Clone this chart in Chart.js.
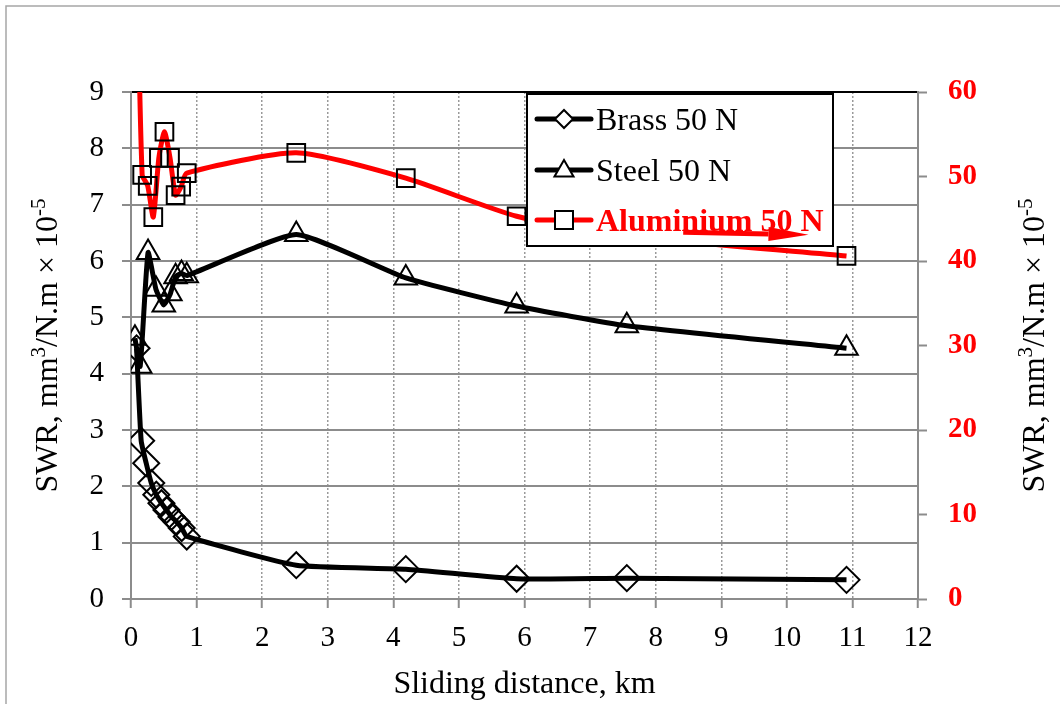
<!DOCTYPE html>
<html>
<head>
<meta charset="utf-8">
<script src="https://cdn.jsdelivr.net/npm/chart.js@4.4.0/dist/chart.umd.min.js"></script>
<style>
html,body{margin:0;padding:0;background:#ffffff;}
#wrap{width:1060px;height:704px;position:relative;}
</style>
</head>
<body>
<div id="wrap"><canvas id="c" width="1060" height="704"></canvas></div>
<script>
// ---- data (sliding distance in km, specific wear rate) ----
const brassDist = [0.085, 0.155, 0.232, 0.309, 0.386, 0.464, 0.541, 0.618, 0.695, 0.773, 0.85, 2.52, 4.19, 5.88, 7.56, 10.91];
const brassSWR  = [4.45, 2.81, 2.41, 2.06, 1.85, 1.70, 1.58, 1.46, 1.37, 1.26, 1.11, 0.60, 0.53, 0.36, 0.37, 0.34];

const steelDist = [0.06, 0.14, 0.26, 0.38, 0.50, 0.60, 0.68, 0.77, 0.85, 2.52, 4.19, 5.88, 7.56, 10.91];
const steelSWR  = [4.63, 4.13, 6.15, 5.50, 5.22, 5.42, 5.72, 5.78, 5.74, 6.47, 5.70, 5.20, 4.85, 4.45];

const alDist = [0.085, 0.17, 0.255, 0.34, 0.425, 0.51, 0.595, 0.68, 0.765, 0.85, 2.52, 4.19, 5.88, 7.56, 10.91];
const alSWR  = [78, 50.2, 48.9, 45.2, 52.2, 55.3, 52.2, 47.8, 48.8, 50.4, 52.8, 49.8, 45.3, 43.0, 40.6];

const seriesNames = ['Brass 50 N', 'Steel 50 N', 'Aluminium 50 N'];
const xTitle = 'Sliding distance, km';
const yTitleParts = [['SWR, mm', false], ['3', true], ['/N.m × 10', false], ['-5', true]];
// annotation arrow (x in km, y on right axis)
const arrowFrom = [8.42, 43.4];
const arrowTo   = [10.33, 43.1];

const SERIF = '"Liberation Serif", "Times New Roman", serif';

function pts(xs, ys){ return xs.map((x,i)=>({x:x, y:ys[i]})); }

function drawRich(ctx, parts, size, x, y, rot){
  ctx.save();
  ctx.translate(x, y);
  ctx.rotate(rot);
  ctx.fillStyle = '#000';
  ctx.textBaseline = 'alphabetic';
  ctx.textAlign = 'left';
  let total = 0;
  const widths = parts.map(([t, sup])=>{
    ctx.font = (sup ? Math.round(size*0.65) : size) + 'px ' + SERIF;
    const w = ctx.measureText(t).width; total += w; return w;
  });
  let cx = -total/2;
  parts.forEach(([t, sup], i)=>{
    ctx.font = (sup ? Math.round(size*0.65) : size) + 'px ' + SERIF;
    ctx.fillText(t, cx, sup ? -size*0.36 : 0);
    cx += widths[i];
  });
  ctx.restore();
}

function marker(ctx, style, x, y, r, fill){
  ctx.save();
  ctx.beginPath();
  if (style === 'rectRot'){
    ctx.moveTo(x - r, y); ctx.lineTo(x, y - r); ctx.lineTo(x + r, y); ctx.lineTo(x, y + r);
  } else if (style === 'triangle'){
    ctx.moveTo(x, y - r); ctx.lineTo(x + r*0.866, y + r*0.5); ctx.lineTo(x - r*0.866, y + r*0.5);
  } else {
    ctx.rect(x - r, y - r, 2*r, 2*r);
  }
  ctx.closePath();
  ctx.fillStyle = fill; ctx.fill();
  ctx.lineWidth = 2; ctx.strokeStyle = '#000'; ctx.stroke();
  ctx.restore();
}

const overlay = {
  id: 'overlay',
  afterDraw(chart){
    const ctx = chart.ctx;
    const xs = chart.scales.x, y2 = chart.scales.y2, ca = chart.chartArea;
    // outer frame
    ctx.save();
    ctx.strokeStyle = '#a6a6a6'; ctx.lineWidth = 1.5;
    ctx.beginPath(); ctx.moveTo(6, 710); ctx.lineTo(6, 6); ctx.lineTo(1070, 6); ctx.stroke();
    ctx.restore();
    // axis titles
    ctx.save();
    ctx.font = '32px ' + SERIF; ctx.fillStyle = '#000'; ctx.textAlign = 'center'; ctx.textBaseline = 'alphabetic';
    ctx.fillText(xTitle, (ca.left + ca.right)/2, 693);
    ctx.restore();
    const midY = (ca.top + ca.bottom)/2;
    drawRich(ctx, yTitleParts, 32, 57, midY, -Math.PI/2);
    drawRich(ctx, yTitleParts, 32, 1044, midY, -Math.PI/2);
    // legend
    const L = 527, T = 94, W = 306, H = 152;
    ctx.save();
    ctx.fillStyle = '#fff'; ctx.fillRect(L, T, W, H);
    ctx.strokeStyle = '#000'; ctx.lineWidth = 2; ctx.strokeRect(L, T, W, H);
    const rows = [119, 170, 220];
    const styles = ['rectRot', 'triangle', 'rect'];
    const colors = ['#000', '#000', '#ff0000'];
    const radii = [9, 11, 9];
    rows.forEach((ry, i)=>{
      ctx.strokeStyle = colors[i]; ctx.lineWidth = 5; ctx.lineCap = 'round';
      ctx.beginPath(); ctx.moveTo(537, ry); ctx.lineTo(591, ry); ctx.stroke();
      marker(ctx, styles[i], 564, i === 1 ? ry + 1 : ry, radii[i], '#fff');
      ctx.font = (i === 2 ? 'bold ' : '') + '32px ' + SERIF;
      ctx.fillStyle = colors[i]; ctx.textAlign = 'left'; ctx.textBaseline = 'alphabetic';
      ctx.fillText(seriesNames[i], 596, ry + 11);
    });
    ctx.restore();
    // arrow
    const ax1 = xs.getPixelForValue(arrowFrom[0]), ay1 = y2.getPixelForValue(arrowFrom[1]);
    const ax2 = xs.getPixelForValue(arrowTo[0]),   ay2 = y2.getPixelForValue(arrowTo[1]);
    const ang = Math.atan2(ay2 - ay1, ax2 - ax1);
    const headL = 40, headW = 7;
    ctx.save();
    ctx.strokeStyle = '#ff0000'; ctx.fillStyle = '#ff0000'; ctx.lineWidth = 5;
    const bx = ax2 - headL*Math.cos(ang), by = ay2 - headL*Math.sin(ang);
    ctx.beginPath(); ctx.moveTo(ax1, ay1); ctx.lineTo(bx, by); ctx.stroke();
    ctx.beginPath();
    ctx.moveTo(ax2, ay2);
    ctx.lineTo(bx + headW*Math.sin(ang), by - headW*Math.cos(ang));
    ctx.lineTo(bx - headW*Math.sin(ang), by + headW*Math.cos(ang));
    ctx.closePath(); ctx.fill();
    ctx.restore();
  }
};

const common = {
  borderWidth: 5,
  pointBorderWidth: 2,
  pointBorderColor: '#000',
  pointBackgroundColor: 'rgba(0,0,0,0)',
  pointRadius: 13,
  pointHoverRadius: 13,
  tension: 0.15,
  fill: false
};

new Chart(document.getElementById('c'), {
  type: 'line',
  data: {
    datasets: [
      Object.assign({}, common, {label: seriesNames[0], data: pts(brassDist, brassSWR), borderColor: '#000', pointStyle: 'rectRot', yAxisID: 'y'}),
      Object.assign({}, common, {label: seriesNames[1], data: pts(steelDist, steelSWR), borderColor: '#000', pointStyle: 'triangle', yAxisID: 'y'}),
      Object.assign({}, common, {label: seriesNames[2], data: pts(alDist, alSWR), borderColor: '#ff0000', pointStyle: 'rect', pointRadius: 12.5, yAxisID: 'y2', clip: 0, tension: 0.2})
    ]
  },
  options: {
    responsive: false,
    animation: false,
    devicePixelRatio: 1,
    layout: {padding: {top: 92, left: 0, right: 0, bottom: 0}},
    elements: {line: {capBezierPoints: false}},
    plugins: {legend: {display: false}, tooltip: {enabled: false}},
    scales: {
      x: {
        type: 'linear', min: 0, max: 12,
        ticks: {stepSize: 1, color: '#000', font: {family: SERIF, size: 29}, padding: 13, maxRotation: 0},
        grid: {color: c => (c.tick && c.tick.value === 0) ? '#333' : '#9a9a9a', lineWidth: 1.5, tickLength: 9, tickColor: '#8c8c8c', tickWidth: 2},
        border: {color: '#8c8c8c', width: 2, dash: [2, 2]},
        afterFit: s => { s.height = 105; }
      },
      y: {
        position: 'left', min: 0, max: 9,
        ticks: {stepSize: 1, color: '#000', font: {family: SERIF, size: 29}, padding: 18},
        grid: {color: c => (c.tick && c.tick.value === 9) ? '#000' : '#8c8c8c', lineWidth: 2, tickLength: 9, tickColor: '#8c8c8c', tickWidth: 2},
        border: {color: '#8c8c8c', width: 2},
        afterFit: s => { s.width = 131; }
      },
      y2: {
        position: 'right', min: 0, max: 60,
        ticks: {stepSize: 10, color: '#ff0000', font: {family: SERIF, size: 29, weight: 'bold'}, padding: 21},
        grid: {drawOnChartArea: false, tickLength: 9, tickColor: '#8c8c8c', tickWidth: 2},
        border: {color: '#8c8c8c', width: 2},
        afterFit: s => { s.width = 142; }
      }
    }
  },
  plugins: [overlay]
});
</script>
</body>
</html>
